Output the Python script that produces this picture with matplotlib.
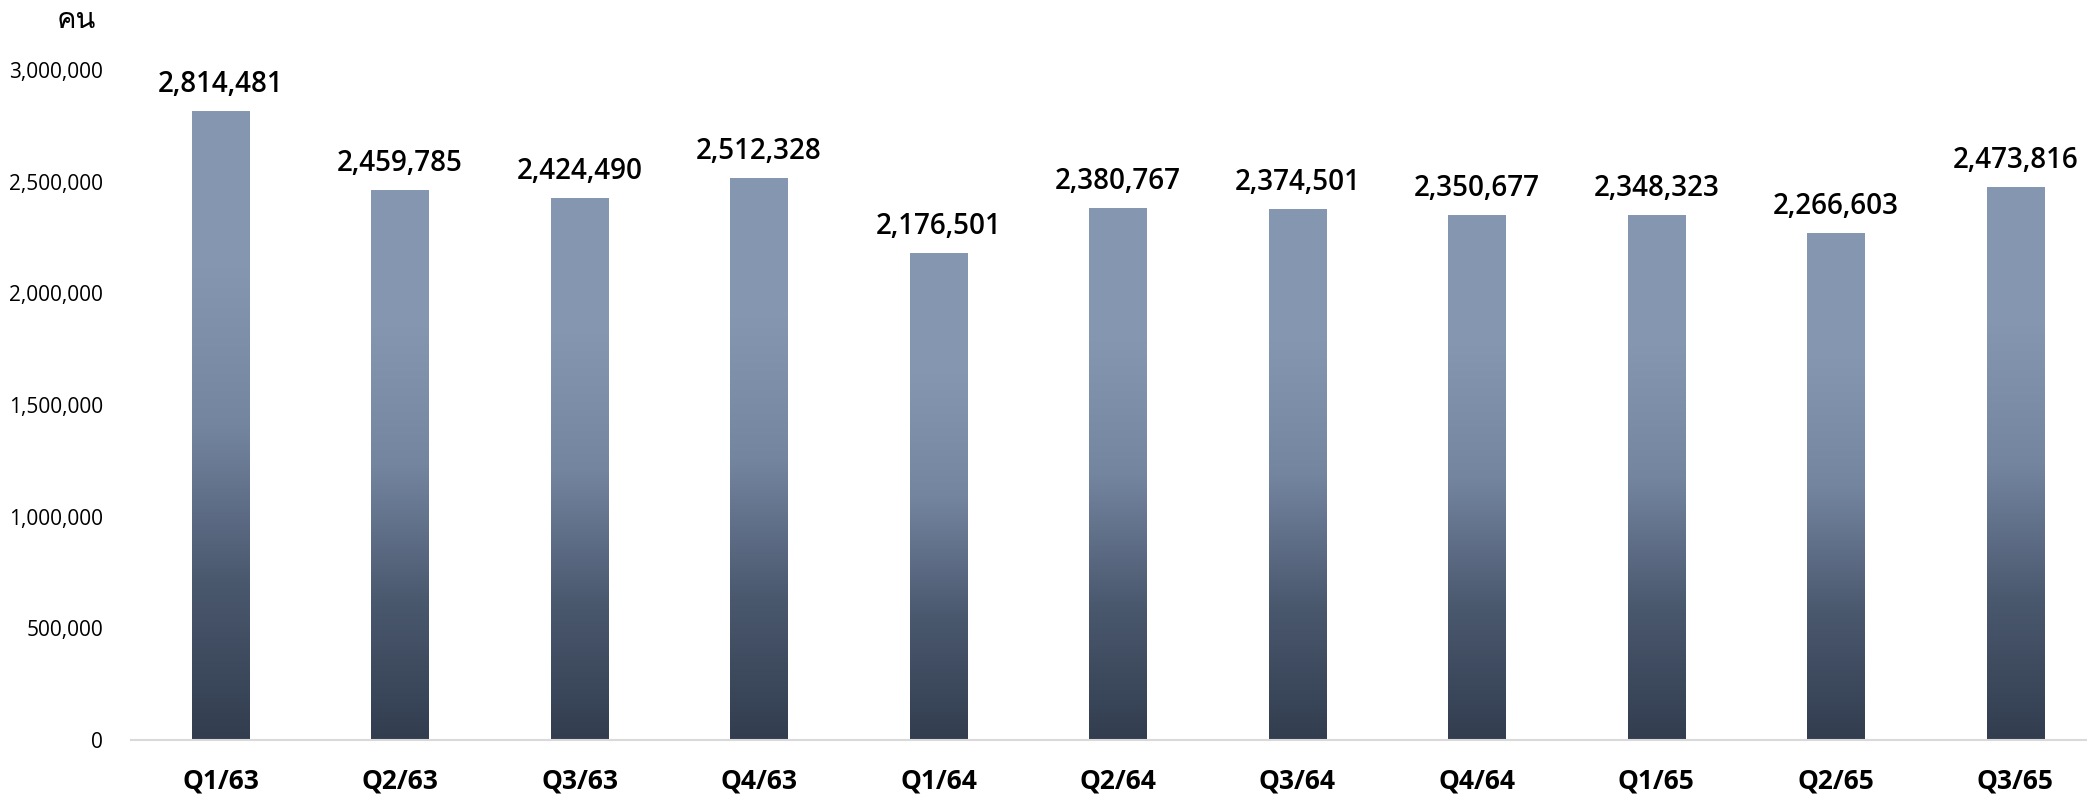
import numpy as np
import matplotlib
matplotlib.use("Agg")
from matplotlib import pyplot as plt
from matplotlib import font_manager
from matplotlib.colors import LinearSegmentedColormap

quarters = ['Q1/63', 'Q2/63', 'Q3/63', 'Q4/63', 'Q1/64', 'Q2/64',
            'Q3/64', 'Q4/64', 'Q1/65', 'Q2/65', 'Q3/65']
people = [2814481, 2459785, 2424490, 2512328, 2176501, 2380767,
          2374501, 2350677, 2348323, 2266603, 2473816]
yticks = [0, 500000, 1000000, 1500000, 2000000, 2500000, 3000000]
unit_label = 'คน'


# find something installed that can draw Thai
def thai_family():
    from matplotlib import ft2font
    for f in font_manager.fontManager.ttflist:
        try:
            cmap = ft2font.FT2Font(f.fname).get_charmap()
        except Exception:
            continue
        if ord('ค') in cmap and ord('น') in cmap:
            return f.name
    return None

thai = thai_family()
fam = ['Open Sans', 'DejaVu Sans']
if thai:
    fam = ['Open Sans', thai, 'DejaVu Sans']
plt.rcParams['font.family'] = fam

fig = plt.figure(figsize=(20.87, 7.95), dpi=100)
ax = fig.add_axes([0, 0, 1, 1])
# axes area: left at x=131px, bottom at y=740px, top at y=70px
ax.set_position([131 / 2087, 1 - 740 / 795, 1 - 131 / 2087, (740 - 70) / 795])

cmap = LinearSegmentedColormap.from_list('bar', ['#323d4f', '#4a586e', '#7485a0', '#8597b0', '#8698b1'])
grad = np.linspace(0, 1, 256).reshape(-1, 1)
w = 0.32
x = np.arange(len(quarters))
bars = ax.bar(x, people, width=w, color='none')
for b, v in zip(bars, people):
    ax.imshow(grad, cmap=cmap, origin='lower', aspect='auto',
              extent=(b.get_x(), b.get_x() + w, 0, v), zorder=2)
    ax.annotate(f'{v:,}', (b.get_x() + w / 2, v), xytext=(0, 9),
                textcoords='offset points', ha='center', va='bottom',
                fontsize=20, fontweight='semibold', color='black',
                annotation_clip=False)

ax.set_xlim(-0.5, 10.4)
ax.set_ylim(0, 3000000)
ax.set_xticks(x)
ax.set_xticklabels(quarters, fontsize=19, fontweight='bold')
ax.set_yticks(yticks)
ax.set_yticklabels([f'{t:,}' for t in yticks], fontsize=15)
ax.tick_params(axis='both', length=0)
ax.tick_params(axis='x', pad=20)
ax.tick_params(axis='y', pad=20)
for s in ['top', 'right', 'left']:
    ax.spines[s].set_visible(False)
ax.spines['bottom'].set_color('#d9d9d9')
ax.spines['bottom'].set_linewidth(1.5)

fig.text(76 / 2087, 1 - 20 / 795, unit_label, ha='center', va='center', fontsize=21)

fig.savefig('out.png', dpi=100)
